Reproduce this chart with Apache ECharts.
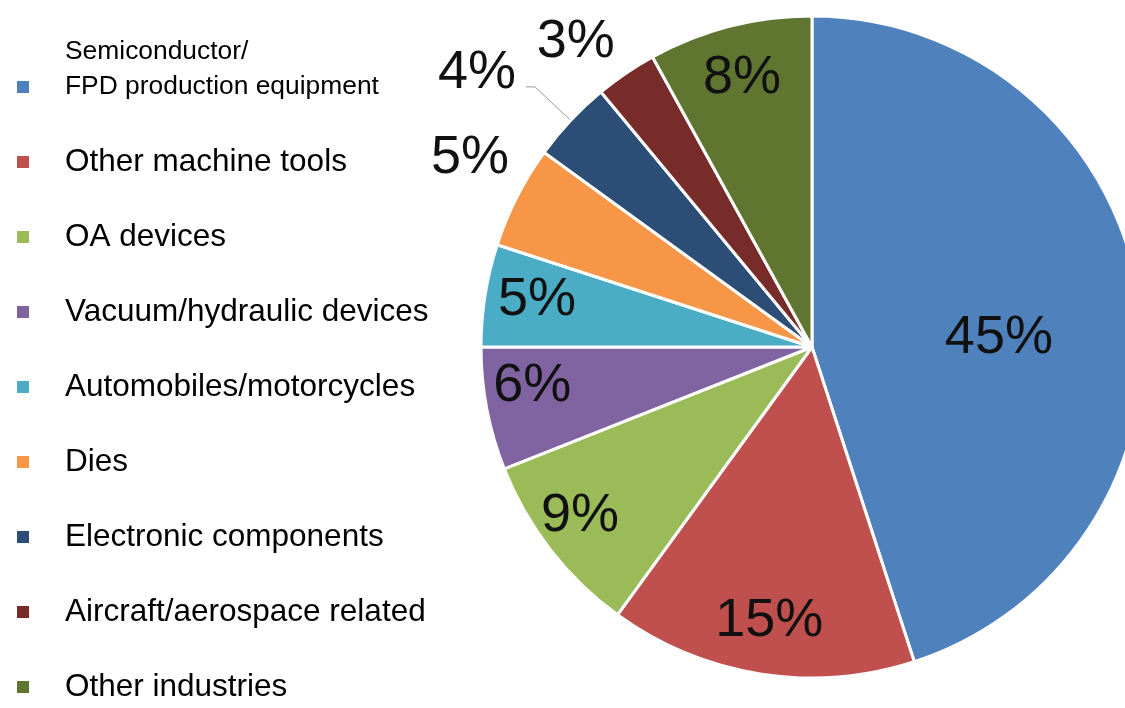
<!DOCTYPE html>
<html>
<head>
<meta charset="utf-8">
<title>Share of shipments by industry</title>
<script src="https://cdn.jsdelivr.net/npm/echarts@6/dist/echarts.min.js"></script>
<style>
  html, body { margin: 0; padding: 0; background: #ffffff; }
  #chart { width: 1125px; height: 708px; }
</style>
</head>
<body>
<div id="chart"></div>
<script>
// Industry breakdown (percent of total)
const categories = [
  'Semiconductor/\nFPD production equipment',
  'Other machine tools',
  'OA devices',
  'Vacuum/hydraulic devices',
  'Automobiles/motorcycles',
  'Dies',
  'Electronic components',
  'Aircraft/aerospace related',
  'Other industries'
];
const shares = [45, 15, 9, 6, 5, 5, 4, 3, 8];

// Slice colours, in category order
const palette = [
  '#4F81BD', '#C0504D', '#9BBB59', '#8064A2', '#4BACC6',
  '#F79646', '#2C4D75', '#772C2A', '#5F7530'
];

// Pie geometry
const CX = 812, CY = 347, R = 331;
// Where each percentage label sits: distance from the centre as a share of
// the radius, and a small turn (degrees, clockwise) off the slice's mid-angle.
// null = keep the pie's own outside placement (leader-line label).
const labelRadius = [0.566, 0.825, 0.86, 0.852, 0.845, 1.186, null, 1.175, 0.851];
const labelTurn   = [5, 0, 2.4, 3.7, 1.5, 2.4, 0, -3.2, 0];
// glyphs sit a little high in their box; drop them onto the optical centre
const LABEL_DROP = 4;
// the leader-line label rides just above and left of the end of its line
const LEADER_SHIFT = [-5, -14];

const FONT = "'Liberation Sans', Arial, Helvetica, sans-serif";

const chart = echarts.init(document.getElementById('chart'), null, { renderer: 'canvas' });

const pieData = categories.map((name, i) => {
  const item = { name: name, value: shares[i], itemStyle: { color: palette[i] } };
  if (labelRadius[i] === null) {
    // small slice labelled outside with a thin leader line
    item.label = { position: 'outside' };
    item.labelLine = {
      show: true, length: 49, length2: 9, smooth: false,
      lineStyle: { color: '#9a9a9a', width: 1 }
    };
  }
  return item;
});

const option = {
  backgroundColor: '#ffffff',
  animation: false,
  legend: {
    orient: 'vertical',
    left: 15,
    top: 34.5,
    height: 900,
    padding: 0,
    itemGap: -30,
    itemWidth: 14,
    itemHeight: 14,
    icon: 'rect',
    selectedMode: false,
    // a wrapped label gets a blank trailing line so its marker sits
    // beside the last line of text
    formatter: name => name.indexOf('\n') >= 0 ? name + '\n' : name,
    textStyle: {
      fontFamily: FONT,
      fontSize: 31.5,
      lineHeight: 105,
      color: '#000000',
      padding: [0, 0, 0, 30]
    },
    data: categories.map((name, i) => i === 0
      ? { name: name, textStyle: { fontSize: 26.4, lineHeight: 35 } }
      : { name: name })
  },
  series: [{
    type: 'pie',
    center: [CX, CY],
    radius: R,
    startAngle: 90,
    clockwise: true,
    avoidLabelOverlap: false,
    emphasis: { scale: false },
    itemStyle: { borderColor: '#ffffff', borderWidth: 3 },
    label: {
      show: true,
      position: 'inside',
      formatter: '{c}%',
      fontFamily: FONT,
      fontSize: 54,
      color: '#111111'
    },
    labelLine: { show: false },
    labelLayout: function (p) {
      const k = labelRadius[p.dataIndex];
      if (k === null || k === undefined) {
        return { dx: LEADER_SHIFT[0], dy: LEADER_SHIFT[1] };
      }
      const r = p.labelRect;
      const lx = r.x + r.width / 2;
      const ly = r.y + r.height / 2;
      const a = Math.atan2(ly - CY, lx - CX) + labelTurn[p.dataIndex] * Math.PI / 180;
      return {
        dx: CX + k * R * Math.cos(a) - lx,
        dy: CY + k * R * Math.sin(a) - ly + LABEL_DROP
      };
    },
    data: pieData
  }]
};

chart.setOption(option);
</script>
</body>
</html>
